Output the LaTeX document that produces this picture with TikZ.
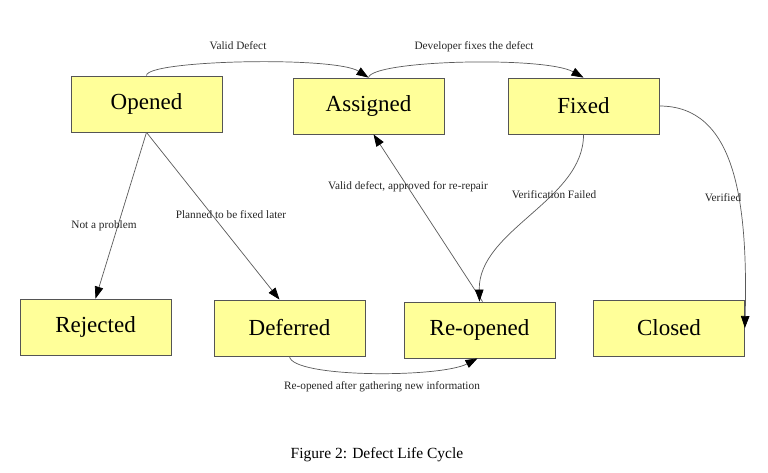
\documentclass[tikz,border=0pt]{standalone}
\usepackage{fontspec}
\setmainfont{Liberation Serif}
\usetikzlibrary{arrows.meta}
\definecolor{boxfill}{HTML}{FFFF99}
\definecolor{boxline}{HTML}{555555}
\definecolor{edgeline}{HTML}{5A5A5A}
\tikzset{
  state/.style={draw=boxline, fill=boxfill, line width=0.8pt, rectangle,
    minimum width=151pt, minimum height=56pt, inner sep=0pt,
    font=\fontsize{23}{26}\selectfont},
  edge/.style={draw=edgeline, line width=0.7pt,
    -{Triangle[length=12pt,width=8.5pt,fill=black,color=black]}},
  elabel/.style={font=\fontsize{11.3}{13}\selectfont, text=black!85, inner sep=0pt}
}
\begin{document}
\begin{tikzpicture}[x=1pt,y=-1pt]
\useasboundingbox (0,0) rectangle (768,472);
\fill[white] (0,0) rectangle (768,472);

\node[state] (o) at (146.5,104) {Opened};
\node[state] (a) at (368.5,106) {Assigned};
\node[state] (f) at (583.5,106) {Fixed};
\node[state] (rj) at (95.5,327) {Rejected};
\node[state] (d) at (289.5,328) {Deferred};
\node[state] (r) at (479.5,330) {Re-opened};
\node[state] (c) at (669,328) {Closed};

\draw[edge] (o.north) .. controls (146,60) and (335,56) .. (a.north);
\draw[edge] (a.north) .. controls (372,60) and (545,56) .. (f.north);
\draw[edge] (o.south) -- (rj.north);
\draw[edge] (o.south) -- ([xshift=-10pt]d.north);
\draw[edge] ([xshift=3pt]r.north) -- ([xshift=5pt]a.south);
\draw[edge] (f.south) .. controls (584,200) and (478,230) .. (r.north);
\draw[edge] (f.east) .. controls (735,106) and (748,200) .. (c.east);
\draw[edge] (d.south) .. controls (292,378) and (440,378) .. ([xshift=-2pt]r.south);

\node[elabel] (l1) at (238,46) {Valid Defect};
\node[elabel] (l2) at (474,47) {Developer fixes the defect};
\node[elabel] (l3) at (104,226) {Not a problem};
\node[elabel] (l4) at (231,215) {Planned to be fixed later};
\node[elabel] (l5) at (408,187) {Valid defect, approved for re-repair};
\node[elabel] (l6) at (554,195) {Verification Failed};
\node[elabel] (l7) at (723,198) {Verified};
\node[elabel] (l8) at (382,387) {Re-opened after gathering new information};

\node[font=\fontsize{15.5}{18}\selectfont, inner sep=0pt] (cap) at (377,455) {Figure 2: Defect Life Cycle};
\end{tikzpicture}
\end{document}
